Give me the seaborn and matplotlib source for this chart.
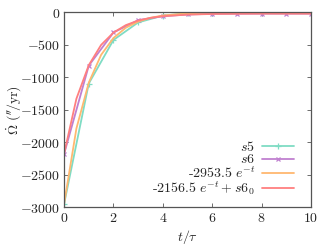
import pandas as pd
import seaborn as sns
import matplotlib
matplotlib.use('Agg')
import matplotlib.pyplot as plt
from matplotlib.ticker import FuncFormatter

# sampled points (t / tau)
t_pts = [0, 1, 2, 3, 4, 5, 6, 7, 8, 9, 10]
s5 = [-2955, -1100, -430, -160, -55, -20, -8, -3, -1, 0, 0]
s6 = [-2185, -825, -315, -125, -65, -38, -28, -26, -25, -25, -25]

# fitted curves on a finer grid
t_fit = [0, 0.5, 1, 1.5, 2, 2.5, 3, 3.5, 4, 5, 6, 7, 8, 9, 10]
fit5 = [-2953.5, -1791, -1087, -659, -400, -242, -147, -89, -54, -20, -7, -3, -1, 0, 0]
fit6 = [-2181, -1333, -818, -506, -317, -202, -132, -90, -64, -40, -30, -27, -25, -25, -25]

labels = ['$s5$', '$s6$', r'$\text{-}2953.5\ e^{-t}$', r'$\text{-}2156.5\ e^{-t} + s6_0$']
colors = ['#7fdcc4', '#c080d0', '#ffb870', '#ff7f7f']

sns.set_style('ticks')
plt.rcParams['font.family'] = ['DejaVu Serif']
plt.rcParams['mathtext.fontset'] = 'cm'

fig = plt.figure(figsize=(3.32, 2.45), dpi=100)
ax = fig.add_axes([0.193, 0.155, 0.744, 0.796])

pts = pd.DataFrame({'t': t_pts, 's5': s5, 's6': s6})
fits = pd.DataFrame({'t': t_fit, 'f5': fit5, 'f6': fit6})

sns.lineplot(data=pts, x='t', y='s5', ax=ax, color=colors[0], lw=1.3,
             marker='+', markersize=4, mew=0.9, mec=colors[0], label=labels[0])
sns.lineplot(data=pts, x='t', y='s6', ax=ax, color=colors[1], lw=1.3,
             marker='x', markersize=3.5, mew=0.9, mec=colors[1], label=labels[1])
sns.lineplot(data=fits, x='t', y='f5', ax=ax, color=colors[2], lw=1.3,
             label=labels[2])
sns.lineplot(data=fits, x='t', y='f6', ax=ax, color=colors[3], lw=1.3,
             label=labels[3])

ax.set_xlim(0, 10)
ax.set_ylim(-3000, 0)
ax.set_xticks([0, 2, 4, 6, 8, 10])
ax.set_yticks([0, -500, -1000, -1500, -2000, -2500, -3000])
ax.xaxis.set_major_formatter(FuncFormatter(lambda v, p: f'${v:.0f}$'))
ax.yaxis.set_major_formatter(FuncFormatter(lambda v, p: f'${v:.0f}$'))
ax.tick_params(direction='in', length=3, width=0.6, top=True, right=True,
               labelsize=10, pad=3, color='#555555')
for sp in ax.spines.values():
    sp.set_visible(True)
    sp.set_color('#555555')
    sp.set_linewidth(0.9)

ax.set_xlabel(r'$t/\tau$', fontsize=10, labelpad=2)
ax.set_ylabel(r"$\dot{\Omega}\ (''\!/\mathrm{yr})$", fontsize=10)
ax.yaxis.set_label_coords(-0.165, 0.5)

ax.legend(loc='lower right', frameon=False, markerfirst=False, fontsize=10,
          handlelength=2.3, handletextpad=0.5, labelspacing=-0.1,
          borderaxespad=0.3, bbox_to_anchor=(0.97, 0.0))

fig.savefig('out.png', dpi=100)
